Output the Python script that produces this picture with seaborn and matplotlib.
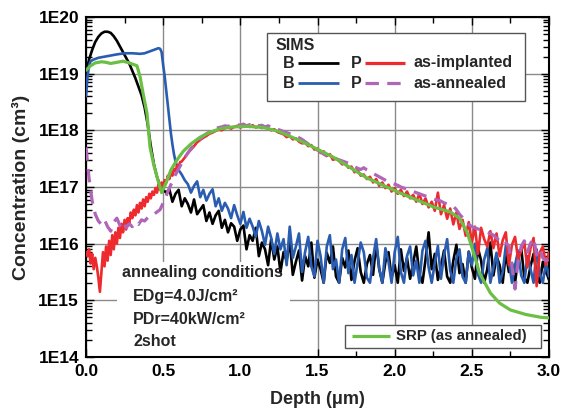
import numpy as np
import pandas as pd
import matplotlib
matplotlib.use("Agg")
import matplotlib.pyplot as plt
import seaborn as sns
from matplotlib.patches import Rectangle
from matplotlib.ticker import LogLocator, NullFormatter, MultipleLocator, FixedLocator, FixedFormatter

# ---------------------------------------------------------------- data
# All concentrations are given as log10(cm^-3); depths in micrometres.

# B, as-implanted (SIMS): implant peak followed by the noise floor
b_impl_peak_depth = [0.00, 0.02, 0.04, 0.06, 0.08, 0.10, 0.12, 0.14, 0.16, 0.18,
                     0.20, 0.22, 0.24, 0.26, 0.28, 0.30, 0.32, 0.34, 0.36, 0.38,
                     0.40, 0.42, 0.44, 0.46, 0.48, 0.50]
b_impl_peak_log = [19.00, 19.25, 19.42, 19.56, 19.65, 19.71, 19.74, 19.74, 19.72, 19.66,
                   19.58, 19.48, 19.38, 19.28, 19.18, 19.05, 18.92, 18.77, 18.62, 18.40,
                   18.10, 17.72, 17.40, 17.18, 17.02, 16.95]
b_impl_tail_start, tail_step = 0.52, 0.02
b_impl_tail_log = [
    16.90, 16.96, 16.74, 16.88, 16.95, 16.66, 16.80, 16.70, 16.55, 16.78,
    16.52, 16.60, 16.68, 16.40, 16.55, 16.35, 16.50, 16.58, 16.28, 16.42,
    16.20, 16.36, 16.30, 16.05, 16.25, 16.32, 15.90, 16.15, 16.05, 16.28,
    15.78, 16.02, 15.90, 15.62, 16.08, 15.72, 15.95, 15.50, 15.85, 15.70,
    16.05, 15.45, 15.68, 15.88, 15.35, 15.78, 15.60, 16.02, 15.40, 15.72,
    15.55, 15.31, 15.84, 15.66, 15.95, 15.42, 15.31, 15.75, 15.58, 15.88,
    15.36, 15.70, 15.92, 15.50, 15.31, 15.64, 15.80, 15.45, 16.00, 15.55,
    15.31, 15.68, 15.85, 15.40, 15.62, 15.31, 15.90, 15.52, 15.75, 15.38,
    15.66, 15.95, 15.46, 15.31, 15.72, 16.20, 15.55, 15.82, 15.36, 15.60,
    15.88, 15.42, 15.31, 15.70, 15.98, 15.48, 15.64, 15.31, 15.86, 15.58,
    15.38, 15.92, 15.70, 15.31, 15.55, 16.02, 15.44, 15.78, 15.62, 15.31,
    15.84, 15.50, 15.66, 15.31, 15.74, 15.92, 15.40, 15.31, 15.60, 15.82,
    15.46, 15.31, 15.68, 15.52, 15.36]

# B, as-annealed (SIMS): box-like melt profile, then the noise floor
b_ann_box_depth = [0.00, 0.01, 0.02, 0.03, 0.05, 0.08, 0.12, 0.16, 0.20, 0.25,
                   0.30, 0.35, 0.38, 0.42, 0.45, 0.47, 0.48, 0.49, 0.50, 0.51,
                   0.52, 0.53, 0.54, 0.55, 0.56, 0.57, 0.58, 0.60, 0.62, 0.64]
b_ann_box_log = [18.60, 18.95, 19.15, 19.22, 19.25, 19.28, 19.30, 19.32, 19.34, 19.36,
                 19.36, 19.35, 19.36, 19.40, 19.43, 19.45, 19.44, 19.38, 19.15, 18.95,
                 18.70, 18.45, 18.20, 17.95, 17.75, 17.58, 17.45, 17.30, 17.22, 17.12]
b_ann_tail_start = 0.66
b_ann_tail_log = [
    17.05, 16.90, 17.02, 17.10, 16.82, 16.95, 16.76, 16.88, 16.96, 16.66,
    16.80, 16.58, 16.72, 16.62, 16.45, 16.68, 16.50, 16.35, 16.56, 16.28,
    16.44, 16.30, 16.12, 16.40, 16.22, 15.98, 16.30, 16.10, 15.82, 16.18,
    15.90, 16.08, 15.62, 16.30, 15.75, 15.95, 16.18, 15.50, 15.86, 16.12,
    15.60, 15.42, 16.05, 15.78, 15.31, 15.95, 16.15, 15.55, 15.72, 15.31,
    15.90, 16.10, 15.48, 15.80, 15.31, 15.66, 16.02, 15.85, 15.40, 15.31,
    15.75, 16.08, 15.56, 15.31, 15.92, 15.68, 15.31, 15.85, 16.12, 15.50,
    15.31, 15.78, 15.95, 15.44, 15.70, 15.31, 15.88, 16.05, 15.58, 15.31,
    15.66, 15.96, 15.38, 15.80, 16.08, 15.52, 15.31, 15.74, 15.90, 15.42,
    15.31, 15.85, 15.62, 16.00, 15.46, 15.31, 15.72, 15.92, 15.31, 15.58,
    15.84, 15.31, 15.50, 15.96, 15.70, 15.31, 15.62, 15.88, 15.44, 15.31,
    15.78, 15.56, 15.31, 15.90, 15.48, 15.31, 15.66, 15.42]

# P, as-implanted (SIMS)
p_impl_near_start, p_impl_near_step = 0.00, 0.01
p_impl_near_log = [
    15.85, 15.78, 15.90, 15.65, 15.82, 15.55, 15.75, 15.60, 15.40, 15.15,
    15.50, 15.85, 15.60, 15.95, 15.70, 16.05, 15.80, 16.15, 15.90, 16.20,
    16.00, 16.28, 16.10, 16.35, 16.20, 16.42, 16.25, 16.45, 16.35, 16.55,
    16.45, 16.60, 16.50, 16.68, 16.55, 16.72, 16.62, 16.78, 16.66, 16.82,
    16.74, 16.88, 16.80, 16.92, 16.86, 16.98, 16.90, 17.05, 16.95, 17.08,
    17.02, 17.12, 17.08, 17.20, 17.14, 17.26, 17.20, 17.32, 17.28, 17.38,
    17.36, 17.44, 17.45]
p_impl_deep_start = 0.64
p_impl_deep_log = [
    17.52, 17.60, 17.66, 17.72, 17.79, 17.83, 17.87, 17.90, 17.94, 17.96,
    17.99, 18.01, 18.00, 18.04, 18.05, 18.03, 18.06, 18.08, 18.05, 18.07,
    18.08, 18.06, 18.09, 18.05, 18.07, 18.04, 18.06, 18.03, 18.00, 18.02,
    17.97, 17.95, 17.93, 17.88, 17.90, 17.84, 17.86, 17.80, 17.77, 17.78,
    17.72, 17.74, 17.66, 17.68, 17.60, 17.63, 17.55, 17.58, 17.48, 17.50,
    17.46, 17.40, 17.42, 17.34, 17.36, 17.26, 17.30, 17.20, 17.22, 17.14,
    17.18, 17.08, 17.14, 17.02, 17.08, 16.98, 17.04, 16.92, 16.98, 16.88,
    16.95, 16.84, 16.92, 16.80, 16.86, 16.74, 16.88, 16.70, 16.80, 16.64,
    16.74, 16.58, 16.90, 16.52, 16.68, 16.44, 16.62, 16.34, 16.55, 16.26,
    16.42, 16.14, 16.38, 16.02, 16.30, 15.82, 16.28, 16.08, 15.95, 16.22,
    15.92, 16.18, 15.78, 16.06, 16.20, 15.62, 15.98, 16.12, 15.72, 15.88,
    16.02, 15.58, 15.92, 16.10, 15.25, 15.84, 15.95, 15.62, 15.85]

# P, as-annealed (SIMS)
p_ann_start = 0.00
p_ann_log = [
    17.70, 17.15, 16.75, 16.52, 16.40, 16.34, 16.42, 16.30, 16.22, 16.38,
    16.45, 16.32, 16.40, 16.28, 16.35, 16.30, 16.38, 16.34, 16.42, 16.40,
    16.46, 16.50, 16.52, 16.56, 16.60, 16.72, 16.85, 16.98, 17.10, 17.22,
    17.32, 17.42, 17.52, 17.60, 17.68, 17.74, 17.80, 17.85, 17.90, 17.94,
    17.97, 18.00, 18.03, 18.05, 18.06, 18.08, 18.07, 18.09, 18.08, 18.10,
    18.09, 18.11, 18.08, 18.10, 18.07, 18.10, 18.08, 18.09, 18.06, 18.08,
    18.05, 18.04, 18.02, 18.00, 17.98, 17.96, 17.94, 17.92, 17.90, 17.87,
    17.84, 17.80, 17.76, 17.72, 17.68, 17.65, 17.62, 17.58, 17.55, 17.52,
    17.52, 17.50, 17.48, 17.46, 17.44, 17.42, 17.39, 17.36, 17.33, 17.31,
    17.34, 17.30, 17.27, 17.24, 17.21, 17.18, 17.15, 17.12, 17.09, 17.07,
    17.05, 17.03, 17.00, 16.98, 16.96, 16.94, 16.92, 16.90, 16.88, 16.86,
    16.84, 16.82, 16.80, 16.78, 16.77, 16.75, 16.72, 16.70, 16.68, 16.66,
    16.60, 16.52, 16.46, 16.40, 16.34, 16.30, 16.28, 16.26, 16.24, 16.22,
    16.20, 16.18, 16.15, 16.10, 16.05, 16.08, 16.02, 15.95, 15.60, 15.20,
    15.70, 15.95, 16.05, 15.85, 16.00, 16.10, 15.80, 15.90, 15.75, 15.70,
    15.72]

# Carrier profile from spreading resistance (as annealed)
srp_depth = [0.00, 0.03, 0.06, 0.10, 0.13, 0.16, 0.20, 0.24, 0.28, 0.31,
             0.33, 0.35, 0.37, 0.395, 0.415, 0.44, 0.46, 0.49, 0.52, 0.55,
             0.59, 0.63, 0.68, 0.74, 0.80, 0.87, 0.95, 1.05, 1.15, 1.25,
             1.40, 1.60, 1.82, 2.03, 2.25, 2.36, 2.42, 2.47, 2.51, 2.55,
             2.62, 2.68, 2.75, 2.85, 2.95, 3.00]
srp_log = [19.06, 19.14, 19.19, 19.21, 19.20, 19.18, 19.20, 19.22, 19.19, 19.16,
           19.14, 18.95, 18.65, 18.30, 17.70, 17.38, 17.18, 16.90, 17.08, 17.30,
           17.48, 17.63, 17.76, 17.88, 17.96, 18.03, 18.06, 18.07, 18.05, 17.98,
           17.80, 17.53, 17.16, 16.90, 16.65, 16.56, 16.45, 16.20, 15.85, 15.48,
           15.13, 14.95, 14.83, 14.75, 14.70, 14.69]

x_ticks = [0.0, 0.5, 1.0, 1.5, 2.0, 2.5, 3.0]
x_tick_labels = ["0.0", "0.5", "1.0", "1.5", "2.0", "2.5", "3.0"]
y_exponents = [14, 15, 16, 17, 18, 19, 20]
y_tick_labels = ["1E14", "1E15", "1E16", "1E17", "1E18", "1E19", "1E20"]


def grid_depth(start, step, n):
    return list(np.round(start + step * np.arange(n), 4))


def profile(depth, logs):
    return pd.DataFrame({"depth": depth, "conc": np.power(10.0, np.asarray(logs))})


b_impl = profile(b_impl_peak_depth + grid_depth(b_impl_tail_start, tail_step, len(b_impl_tail_log)),
                 b_impl_peak_log + b_impl_tail_log)
b_ann = profile(b_ann_box_depth + grid_depth(b_ann_tail_start, tail_step, len(b_ann_tail_log)),
                b_ann_box_log + b_ann_tail_log)
p_impl = profile(grid_depth(p_impl_near_start, p_impl_near_step, len(p_impl_near_log))
                 + grid_depth(p_impl_deep_start, tail_step, len(p_impl_deep_log)),
                 p_impl_near_log + p_impl_deep_log)
p_ann = profile(grid_depth(p_ann_start, tail_step, len(p_ann_log)), p_ann_log)
srp = profile(srp_depth, srp_log)

# ---------------------------------------------------------------- style
sns.set_theme(style="ticks")
plt.rcParams["font.family"] = ["Liberation Sans", "DejaVu Sans"]
plt.rcParams["font.weight"] = "bold"
plt.rcParams["axes.labelweight"] = "bold"

C_BLACK = "#000000"
C_BLUE = "#2a5db0"
C_RED = "#ee2a2e"
C_PURPLE = "#b165b8"
C_GREEN = "#6cbf45"
PURPLE_DASH = (0, (4.2, 2.6))

fig = plt.figure(figsize=(5.63, 4.18), dpi=100)
ax = fig.add_axes([86 / 563, 61 / 418, 463 / 563, 340 / 418])
ax.set_yscale("log")

line_kw = dict(x="depth", y="conc", sort=False, estimator=None, ax=ax, legend=False)
sns.lineplot(data=b_impl, color=C_BLACK, lw=1.9, zorder=3, **line_kw)
sns.lineplot(data=b_ann, color=C_BLUE, lw=1.9, zorder=3.1, **line_kw)
sns.lineplot(data=p_impl, color=C_RED, lw=1.9, zorder=3.2, **line_kw)
sns.lineplot(data=p_ann, color=C_PURPLE, lw=2.3, zorder=3.3, dashes=False, **line_kw)
ax.lines[-1].set_linestyle(PURPLE_DASH)
sns.lineplot(data=srp, color=C_GREEN, lw=2.3, zorder=3.4, **line_kw)

# ---------------------------------------------------------------- axes
ax.set_xlim(0.0, 3.0)
ax.set_ylim(10.0 ** y_exponents[0], 10.0 ** y_exponents[-1])
ax.xaxis.set_major_locator(FixedLocator(x_ticks))
ax.xaxis.set_major_formatter(FixedFormatter(x_tick_labels))
ax.xaxis.set_minor_locator(MultipleLocator(0.25))
ax.yaxis.set_major_locator(FixedLocator([10.0 ** e for e in y_exponents]))
ax.yaxis.set_major_formatter(FixedFormatter(y_tick_labels))
ax.yaxis.set_minor_locator(LogLocator(base=10, subs=np.arange(2, 10), numticks=20))
ax.yaxis.set_minor_formatter(NullFormatter())

ax.grid(True, which="major", color="#8a8a8a", lw=1.0)
ax.set_axisbelow(True)
ax.tick_params(which="both", direction="in", top=True, right=True, colors="black",
               width=1.0)
ax.tick_params(which="major", length=6, labelsize=12.5, pad=5)
ax.tick_params(which="minor", length=4)
for lab in ax.get_xticklabels() + ax.get_yticklabels():
    lab.set_fontweight("bold")
for sp in ax.spines.values():
    sp.set_color("black")
    sp.set_linewidth(1.5)

ax.set_xlabel("Depth (\u03bcm)", fontsize=13, fontweight="bold", labelpad=9)
ax.set_ylabel("Concentration (cm\u00b3)", fontsize=14, fontweight="bold", labelpad=6)

# ---------------------------------------------------------------- legends and notes
def ax_pt(px, py):
    """Figure-pixel position to axes fraction."""
    return (px - 86) / 463, (357 - py) / 340


def key_line(px0, px1, py, color, ls="-", lw=2.3):
    (x0, y0), (x1, _) = ax_pt(px0, py), ax_pt(px1, py)
    ax.plot([x0, x1], [y0, y0], transform=ax.transAxes, color=color, lw=lw, ls=ls,
            zorder=7, clip_on=False, solid_capstyle="butt")


def box(px0, py0, px1, py1, edge):
    (x0, y1), (x1, y0) = ax_pt(px0, py0), ax_pt(px1, py1)
    ax.add_patch(Rectangle((x0, y0), x1 - x0, y1 - y0, transform=ax.transAxes,
                           facecolor="white", edgecolor=edge, lw=1.0, zorder=6))


def label(px, py, s, size=11.5, ha="left"):
    x, y = ax_pt(px, py)
    ax.text(x, y, s, transform=ax.transAxes, fontsize=size, fontweight="bold",
            ha=ha, va="center", zorder=8)


# SIMS key
box(267, 33, 525, 101, "#555555")
label(276, 45, "SIMS")
for py, b_col, p_col, p_ls, desc in [(63, C_BLACK, C_RED, "-", "as-implanted"),
                                     (83, C_BLUE, C_PURPLE, PURPLE_DASH, "as-annealed")]:
    label(283, py, "B")
    key_line(298, 339, py, b_col, lw=2.0)
    label(351, py, "P")
    key_line(365, 405, py, p_col, ls=p_ls, lw=2.3)
    label(413, py, desc)

# SRP key
box(345, 325, 541, 348, "#555555")
key_line(352, 390, 336, C_GREEN, lw=2.3)
label(396, 336, "SRP (as annealed)", size=10.8)

# annealing conditions block
x0, y1 = ax_pt(117, 262)
x1, y0 = ax_pt(290, 356)
ax.add_patch(Rectangle((x0, y0), x1 - x0, y1 - y0, transform=ax.transAxes,
                       facecolor="white", edgecolor="none", zorder=1.8))
label(122, 273, "annealing conditions", size=11.5)
label(133, 297, "EDg=4.0J/cm\u00b2", size=11.5)
label(133, 320, "PDr=40kW/cm\u00b2", size=11.5)
label(133, 342, "2shot", size=11.5)

fig.savefig("out.png", dpi=100)
